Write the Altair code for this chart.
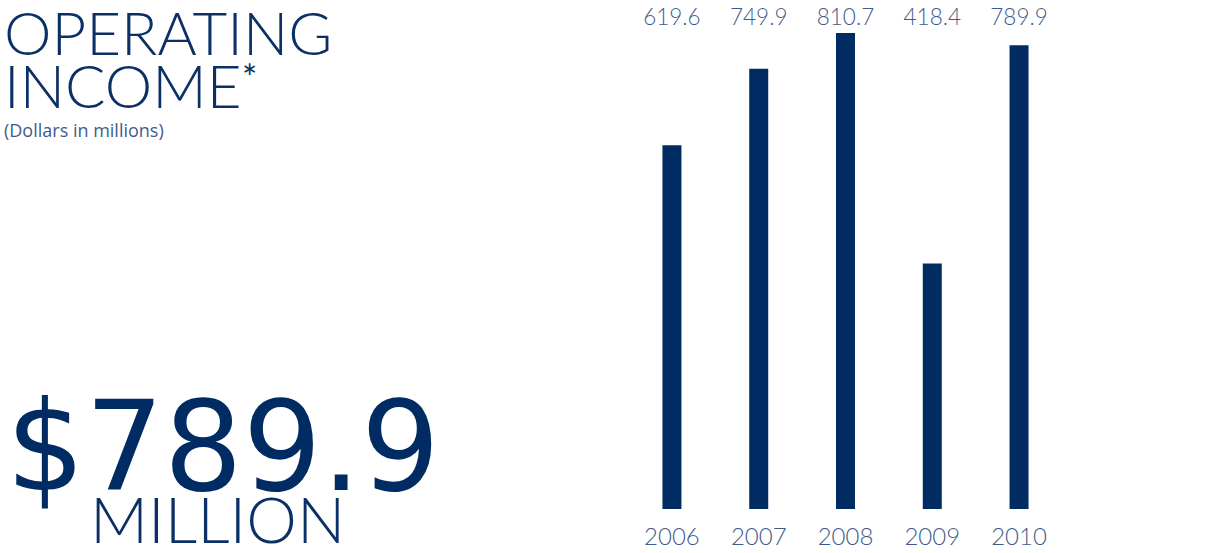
import altair as alt
import pandas as pd

years = [2006, 2007, 2008, 2009, 2010]
income = [619.6, 749.9, 810.7, 418.4, 789.9]

title_line1 = "OPERATING"
title_line2 = "INCOME"
title_note = "*"
subtitle = "(Dollars in millions)"
big_number = "$789.9"
big_unit = "MILLION"

NAVY = "#002c63"
TITLE = "#0b3066"
LABEL = "#3f5b8b"

df = pd.DataFrame({"year": years, "income": income})

xscale = alt.Scale(domain=[1998.314, 2012.166], nice=False, zero=False)
yscale = alt.Scale(domain=[-75, 867.1], nice=False, zero=False)

base = alt.Chart(df)

bars = base.mark_bar(size=19, color=NAVY).encode(
    x=alt.X("year:Q", scale=xscale, axis=None),
    y=alt.Y("income:Q", scale=yscale, axis=None),
    y2=alt.datum(0),
)

vals = base.mark_text(font="Lato", fontWeight=300, fontSize=22.5, color=LABEL,
                      baseline="middle", align="center").encode(
    x=alt.X("year:Q", scale=xscale, axis=None),
    y=alt.value(18),
    text=alt.Text("income:Q", format=".1f"),
)

yrs = base.mark_text(font="Lato", fontWeight=300, fontSize=24, color=LABEL,
                     baseline="middle", align="center").encode(
    x=alt.X("year:Q", scale=xscale, axis=None),
    y=alt.value(538),
    text=alt.Text("year:Q", format="d"),
)


def label(txt, x, y, size, weight, font="Lato", color=TITLE):
    return alt.Chart(pd.DataFrame({"t": [txt]})).mark_text(
        font=font, fontSize=size, fontWeight=weight, color=color,
        align="left", baseline="alphabetic"
    ).encode(x=alt.value(x), y=alt.value(y), text="t:N")


texts = [
    label(title_line1, 4, 55, 60, 300),
    label(title_line2, 4, 108, 60, 300),
    label(title_note, 242, 91, 36, 400),
    label(subtitle, 4, 137, 18, 400, font="Open Sans", color=LABEL),
    label(big_number, 6, 490, 124, 400, font="DejaVu Sans", color=NAVY),
    label(big_unit, 90, 543, 64, 300),
]

chart = alt.layer(bars, vals, yrs, *texts).properties(
    width=1212, height=553,
    autosize=alt.AutoSizeParams(type="none"),
    padding=0,
    background="white",
).configure_view(stroke=None)

chart.save("out.html", embed_options={"renderer": "svg", "actions": False})
